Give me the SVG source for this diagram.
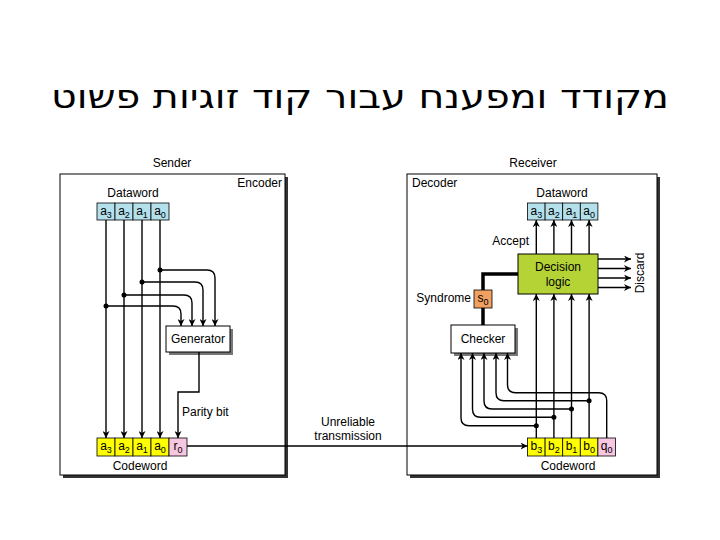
<svg xmlns="http://www.w3.org/2000/svg" width="720" height="540" viewBox="0 0 720 540">
<defs>
<style>
text{font-family:"Liberation Sans","DejaVu Sans",sans-serif;fill:#000}
.lbl{font-size:12px}
.cell{font-size:12px;text-anchor:middle}
.sub{font-size:9px}
.ln{fill:none;stroke:#000;stroke-width:1.4}
.thick{fill:none;stroke:#000;stroke-width:3.5}
.frame{fill:#fff;stroke:#000;stroke-width:1}
.shadow{fill:#333}
.blue{fill:#b4e0ec;stroke:#000;stroke-width:0.8}
.yel{fill:#ffff00;stroke:#000;stroke-width:0.8}
.pink{fill:#f7c6e1;stroke:#000;stroke-width:0.8}
.dot{fill:#000}
</style>
<marker id="ah" viewBox="0 0 10 10" refX="10" refY="5" markerWidth="7" markerHeight="7" markerUnits="userSpaceOnUse" orient="auto">
<path d="M0,0 L10,5 L0,10 L3,5 z" fill="#000"/>
</marker>
</defs>
<rect width="720" height="540" fill="#fff"/>

<text x="360" y="108" font-size="32" text-anchor="middle" style="font-family:'DejaVu Sans','Liberation Sans',sans-serif" textLength="618" lengthAdjust="spacingAndGlyphs">מקודד ומפענח עבור קוד זוגיות פשוט</text>

<!-- Encoder -->
<g id="encoder">
<rect class="shadow" x="63" y="177" width="225" height="301"/>
<rect class="frame" x="60" y="174" width="225" height="301"/>
<text class="lbl" x="172" y="167" text-anchor="middle">Sender</text>
<text class="lbl" x="282" y="187" text-anchor="end">Encoder</text>
</g>
<g id="enc-dataword">
<text class="lbl" x="133" y="197" text-anchor="middle">Dataword</text>
<rect class="blue" x="97" y="203" width="18" height="17"/>
<rect class="blue" x="115" y="203" width="18" height="17"/>
<rect class="blue" x="133" y="203" width="18" height="17"/>
<rect class="blue" x="151" y="203" width="18" height="17"/>
<text class="cell" x="106" y="215">a<tspan class="sub" dy="3">3</tspan></text>
<text class="cell" x="124" y="215">a<tspan class="sub" dy="3">2</tspan></text>
<text class="cell" x="142" y="215">a<tspan class="sub" dy="3">1</tspan></text>
<text class="cell" x="160" y="215">a<tspan class="sub" dy="3">0</tspan></text>
</g>
<g id="generator">
<rect x="169" y="329" width="64" height="26" fill="#777"/>
<rect class="frame" x="166" y="326" width="64" height="26"/>
<text class="lbl" x="198" y="343" text-anchor="middle">Generator</text>
</g>
<g id="enc-codeword">
<rect class="yel" x="97" y="438" width="18" height="18"/>
<rect class="yel" x="115" y="438" width="18" height="18"/>
<rect class="yel" x="133" y="438" width="18" height="18"/>
<rect class="yel" x="151" y="438" width="18" height="18"/>
<rect class="pink" x="169" y="438" width="18" height="18"/>
<text class="cell" x="106" y="450">a<tspan class="sub" dy="3">3</tspan></text>
<text class="cell" x="124" y="450">a<tspan class="sub" dy="3">2</tspan></text>
<text class="cell" x="142" y="450">a<tspan class="sub" dy="3">1</tspan></text>
<text class="cell" x="160" y="450">a<tspan class="sub" dy="3">0</tspan></text>
<text class="cell" x="178" y="450">r<tspan class="sub" dy="3">0</tspan></text>
<text class="lbl" x="140" y="470" text-anchor="middle">Codeword</text>
</g>

<!-- Decoder -->
<g id="decoder">
<rect class="shadow" x="410" y="177" width="250" height="301"/>
<rect class="frame" x="407" y="174" width="250" height="301"/>
<text class="lbl" x="533" y="167" text-anchor="middle">Receiver</text>
<text class="lbl" x="412" y="187">Decoder</text>
</g>
<g id="dec-dataword">
<text class="lbl" x="562" y="197" text-anchor="middle">Dataword</text>
<rect class="blue" x="527.5" y="203" width="17.6" height="17"/>
<rect class="blue" x="545.1" y="203" width="17.6" height="17"/>
<rect class="blue" x="562.7" y="203" width="17.6" height="17"/>
<rect class="blue" x="580.3" y="203" width="17.6" height="17"/>
<text class="cell" x="536.3" y="215">a<tspan class="sub" dy="3">3</tspan></text>
<text class="cell" x="553.9" y="215">a<tspan class="sub" dy="3">2</tspan></text>
<text class="cell" x="571.5" y="215">a<tspan class="sub" dy="3">1</tspan></text>
<text class="cell" x="589.1" y="215">a<tspan class="sub" dy="3">0</tspan></text>
</g>
<g id="decision">
<rect x="518" y="254" width="80" height="40" fill="#b5d334" stroke="#000" stroke-width="1"/>
<text class="lbl" x="558" y="271" text-anchor="middle">Decision</text>
<text class="lbl" x="558" y="286" text-anchor="middle">logic</text>
</g>
<g id="syndrome">
<rect x="474" y="290" width="18" height="18" fill="#f0a060" stroke="#000" stroke-width="0.8"/>
<text class="cell" x="483" y="302">s<tspan class="sub" dy="3">0</tspan></text>
<text class="lbl" x="471" y="302" text-anchor="end">Syndrome</text>
</g>
<g id="checker">
<rect x="454" y="328" width="64" height="28" fill="#777"/>
<rect class="frame" x="451" y="325" width="64" height="28"/>
<text class="lbl" x="483" y="343" text-anchor="middle">Checker</text>
</g>
<g id="dec-codeword">
<rect class="yel" x="527.5" y="438" width="17.6" height="18"/>
<rect class="yel" x="545.1" y="438" width="17.6" height="18"/>
<rect class="yel" x="562.7" y="438" width="17.6" height="18"/>
<rect class="yel" x="580.3" y="438" width="17.6" height="18"/>
<rect class="pink" x="597.9" y="438" width="17.6" height="18"/>
<text class="cell" x="536.3" y="450">b<tspan class="sub" dy="3">3</tspan></text>
<text class="cell" x="553.9" y="450">b<tspan class="sub" dy="3">2</tspan></text>
<text class="cell" x="571.5" y="450">b<tspan class="sub" dy="3">1</tspan></text>
<text class="cell" x="589.1" y="450">b<tspan class="sub" dy="3">0</tspan></text>
<text class="cell" x="606.7" y="450">q<tspan class="sub" dy="3">0</tspan></text>
<text class="lbl" x="568" y="470" text-anchor="middle">Codeword</text>
</g>

<g id="connectors">
<path class="ln" marker-end="url(#ah)" d="M106,220 V438"/>
<path class="ln" marker-end="url(#ah)" d="M124,220 V438"/>
<path class="ln" marker-end="url(#ah)" d="M142,220 V438"/>
<path class="ln" marker-end="url(#ah)" d="M160,220 V438"/>
<path class="ln" marker-end="url(#ah)" d="M160,270 H207 Q215,270 215,278 V326"/>
<path class="ln" marker-end="url(#ah)" d="M142,282 H195 Q203,282 203,290 V326"/>
<path class="ln" marker-end="url(#ah)" d="M124,295 H184 Q192,295 192,303 V326"/>
<path class="ln" marker-end="url(#ah)" d="M106,306 H173 Q181,306 181,314 V326"/>
<circle class="dot" cx="160" cy="270" r="2.5"/>
<circle class="dot" cx="142" cy="282" r="2.5"/>
<circle class="dot" cx="124" cy="295" r="2.5"/>
<circle class="dot" cx="106" cy="306" r="2.5"/>
<path class="ln" marker-end="url(#ah)" d="M199,352 V392 H178 V438"/>
<text class="lbl" x="182" y="416">Parity bit</text>
<path class="ln" marker-end="url(#ah)" d="M187,446 H527.5"/>
<text class="lbl" x="348" y="426" text-anchor="middle">Unreliable</text>
<text class="lbl" x="348" y="440" text-anchor="middle">transmission</text>
<path class="ln" marker-end="url(#ah)" d="M536.3,438 V294"/>
<path class="ln" marker-end="url(#ah)" d="M553.9,438 V294"/>
<path class="ln" marker-end="url(#ah)" d="M571.5,438 V294"/>
<path class="ln" marker-end="url(#ah)" d="M589.1,438 V294"/>
<path class="ln" marker-end="url(#ah)" d="M536.3,254 V220"/>
<path class="ln" marker-end="url(#ah)" d="M553.9,254 V220"/>
<path class="ln" marker-end="url(#ah)" d="M571.5,254 V220"/>
<path class="ln" marker-end="url(#ah)" d="M589.1,254 V220"/>
<text class="lbl" x="529" y="245" text-anchor="end">Accept</text>
<path class="ln" marker-end="url(#ah)" d="M598,259 H631"/>
<path class="ln" marker-end="url(#ah)" d="M598,268.5 H631"/>
<path class="ln" marker-end="url(#ah)" d="M598,278 H631"/>
<path class="ln" marker-end="url(#ah)" d="M598,287.5 H631"/>
<text class="lbl" transform="translate(644,273) rotate(-90)" text-anchor="middle">Discard</text>
<path class="thick" d="M518,274 H483 V290"/>
<path class="thick" d="M483,308 V325"/>
<path class="ln" marker-end="url(#ah)" d="M536.3,425.7 H469 Q461,425.7 461,417.7 V353"/>
<path class="ln" marker-end="url(#ah)" d="M553.9,417.3 H480.5 Q472.5,417.3 472.5,409.3 V353"/>
<path class="ln" marker-end="url(#ah)" d="M571.5,409 H492 Q484,409 484,401 V353"/>
<path class="ln" marker-end="url(#ah)" d="M589.1,400.7 H504 Q496,400.7 496,392.7 V353"/>
<path class="ln" marker-end="url(#ah)" d="M606.7,438 V400.7 Q606.7,392.7 598.7,392.7 H515.5 Q507.5,392.7 507.5,384.7 V353"/>
<circle class="dot" cx="536.3" cy="425.7" r="2.5"/>
<circle class="dot" cx="553.9" cy="417.3" r="2.5"/>
<circle class="dot" cx="571.5" cy="409" r="2.5"/>
<circle class="dot" cx="589.1" cy="400.7" r="2.5"/>
</g>
</svg>
